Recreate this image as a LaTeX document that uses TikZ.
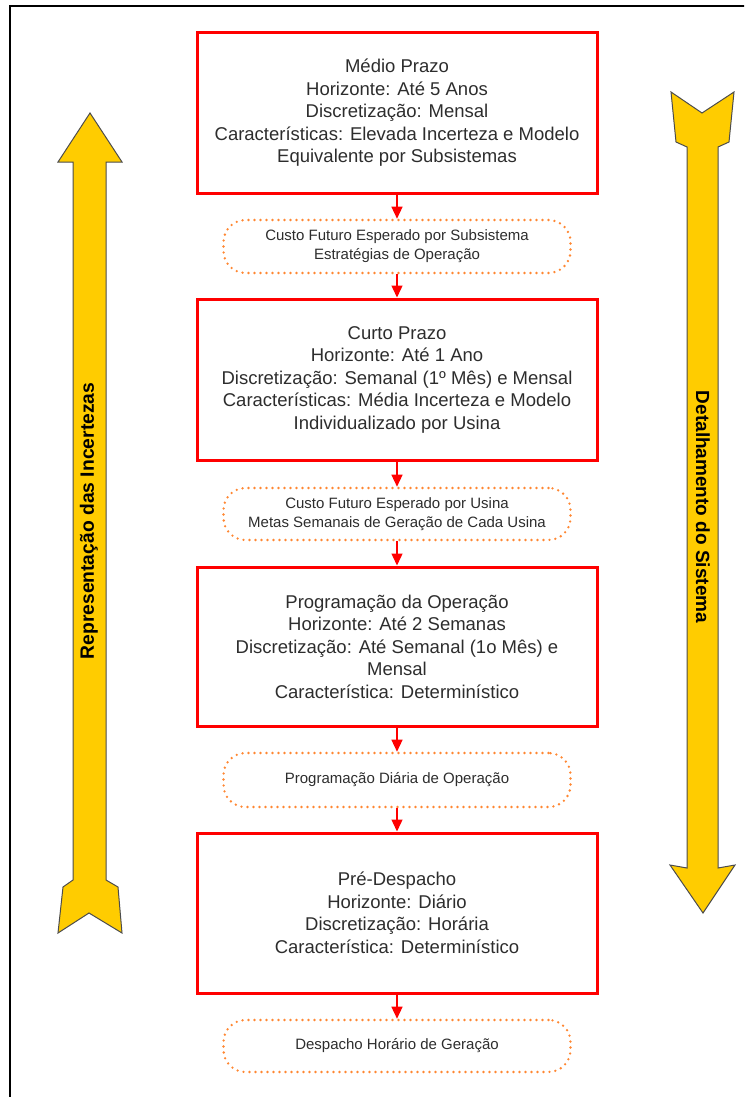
\documentclass[tikz,border=0pt]{standalone}
\usepackage{fontspec}
\setmainfont{Liberation Sans}
\usepackage{tikz}
\usetikzlibrary{arrows.meta}

\definecolor{caixa}{RGB}{255,0,0}
\definecolor{laranja}{RGB}{255,135,50}
\definecolor{ouro}{RGB}{255,204,0}
\definecolor{texto}{RGB}{45,45,45}

\begin{document}
\begin{tikzpicture}[x=1pt, y=-1pt,
      etapa/.style ={rectangle, draw=caixa, line width=3pt, minimum width=400pt,
                     align=center, text=texto, font=\fontsize{18.5}{22.5}\selectfont},
      saida/.style ={rectangle, rounded corners=22pt, draw=laranja, line width=2.6pt,
                     dash pattern=on 0pt off 6pt, line cap=round, minimum width=347pt,
                     align=center, text=texto, font=\fontsize{15}{19}\selectfont},
      seta/.style ={draw=caixa, line width=1.4pt, -{Triangle[length=12pt, width=11pt]}},
      faixa/.style ={fill=ouro, draw=black!70, line width=1pt}]

   \useasboundingbox (0,0) rectangle (744,1097);
   \clip (0,0) rectangle (744,1097);
   \draw[line width=2.2pt] (10,6) rectangle (800,1150);

   % setas laterais
   \draw[faixa] (90,113) -- (122,162) -- (106,162) -- (106,880) -- (118,887) -- (122,933)
      -- (89,913) -- (58,933) -- (63,887) -- (73,880) -- (73,162) -- (58,162) -- cycle;
   \draw[faixa] (671,92) -- (702,113) -- (734,92) -- (729,142) -- (718,147) -- (718,868)
      -- (735,865) -- (703,913) -- (670,865) -- (687,868) -- (687,147) -- (676,142) -- cycle;
   \node[rotate=90, font=\bfseries\fontsize{19.3}{22}\selectfont] (Incerteza) at (89,521)
      {Representação das Incertezas};
   \node[rotate=-90, font=\bfseries\fontsize{19}{22}\selectfont] (Detalhe) at (703,507)
      {Detalhamento do Sistema};

   \node[etapa, minimum height=160pt] (B1) at (397,113)
      {Médio Prazo\\Horizonte: Até 5 Anos\\Discretização: Mensal\\Características: Elevada Incerteza e Modelo\\Equivalente por Subsistemas};
   \node[saida, minimum height=53pt] (D1) at (397,246.5)
      {Custo Futuro Esperado por Subsistema\\Estratégias de Operação};
   \node[etapa, minimum height=161pt] (B2) at (397,379.5)
      {Curto Prazo\\Horizonte: Até 1 Ano\\Discretização: Semanal (1º Mês) e Mensal\\Características: Média Incerteza e Modelo\\Individualizado por Usina};
   \node[saida, minimum height=52pt] (D2) at (397,514)
      {Custo Futuro Esperado por Usina\\Metas Semanais de Geração de Cada Usina};
   \node[etapa, minimum height=159pt] (B3) at (397,646.5)
      {Programação da Operação\\Horizonte: Até 2 Semanas\\Discretização: Até Semanal (1o Mês) e\\Mensal\\Característica: Determinístico};
   \node[saida, minimum height=54pt] (D3) at (397,780)
      {Programação Diária de Operação};
   \node[etapa, minimum height=160pt] (B4) at (397,913)
      {Pré-Despacho\\Horizonte: Diário\\Discretização: Horária\\Característica: Determinístico};
   \node[saida, minimum height=52pt] (D4) at (397,1046)
      {Despacho Horário de Geração};

   \draw[seta] (B1) to (D1);
   \draw[seta] (D1) to (B2);
   \draw[seta] (B2) to (D2);
   \draw[seta] (D2) to (B3);
   \draw[seta] (B3) to (D3);
   \draw[seta] (D3) to (B4);
   \draw[seta] (B4) to (D4);
 \end{tikzpicture}
\end{document}
